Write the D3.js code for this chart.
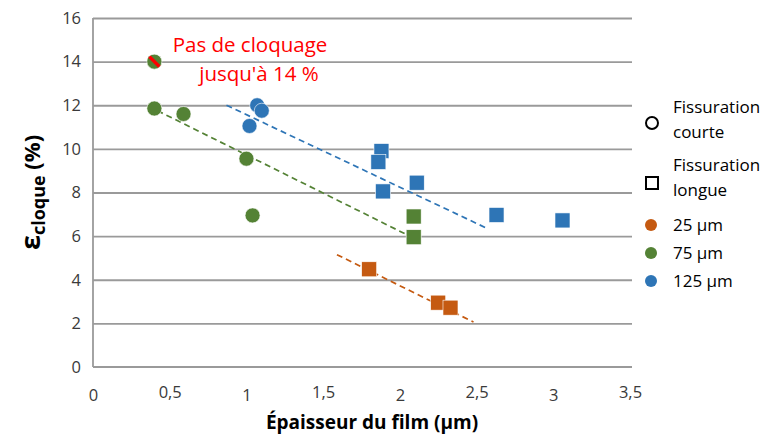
<!DOCTYPE html>
<html>
<head>
<meta charset="utf-8">
<script src="https://cdn.jsdelivr.net/npm/d3@7"></script>
<style>
  html, body { margin: 0; padding: 0; background: #fff; }
  svg { display: block; font-family: "Open Sans", "Liberation Sans", sans-serif; }
</style>
</head>
<body>
<svg id="chart" width="767" height="435"></svg>
<script>
// Film thickness (µm) vs. blistering strain (%), by substrate thickness
const groups = ["25 µm", "75 µm", "125 µm"];
const groupColors = ["#C55A11", "#548235", "#2E75B6"];

// short cracking -> circles, long cracking -> squares
const shortX = [[], [0.40, 0.59, 1.00, 1.04], [1.07, 1.10, 1.02]];
const shortY = [[], [11.85, 11.6, 9.55, 6.95], [12.0, 11.75, 11.05]];
const longX = [[1.80, 2.25, 2.33], [2.09, 2.09], [1.88, 1.86, 1.89, 2.11, 2.63, 3.06]];
const longY = [[4.48, 2.95, 2.72], [6.9, 5.95], [9.9, 9.4, 8.05, 8.45, 6.97, 6.72]];

// dashed trend lines [x0, y0, x1, y1]
const trends = [[1.59, 5.15, 2.48, 2.06], [0.42, 11.75, 2.07, 5.98], [0.87, 12.0, 2.57, 6.35]];

// point with no blistering up to 14 %
const noBlisterX = 0.40, noBlisterY = 14;

const xTicks = [0, 0.5, 1, 1.5, 2, 2.5, 3, 3.5];
const yTicks = [0, 2, 4, 6, 8, 10, 12, 14, 16];

const svg = d3.select("#chart");
const margin = { left: 93, right: 137, top: 18, bottom: 68 };
const W = 767, H = 435;

const x = d3.scaleLinear().domain([0, 3.5]).range([margin.left, W - margin.right]);
const y = d3.scaleLinear().domain([0, 16]).range([H - margin.bottom, margin.top]);

const gridColor = "#9a9a9a";
const textColor = "#3a3a3a";

// horizontal gridlines
svg.append("g")
  .attr("transform", `translate(${margin.left},0)`)
  .call(d3.axisLeft(y).tickValues(yTicks.filter(v => v > 0))
    .tickSize(-(x(3.5) - x(0) + 2)).tickFormat(""))
  .call(g => g.select(".domain").remove())
  .call(g => g.selectAll("line").attr("stroke", gridColor).attr("stroke-width", 1.8));

// left and bottom axis lines
svg.append("line").attr("x1", x(0)).attr("x2", x(0)).attr("y1", y(16)).attr("y2", y(0))
  .attr("stroke", gridColor).attr("stroke-width", 1.8);
svg.append("line").attr("x1", x(0)).attr("x2", x(3.5) + 2).attr("y1", y(0)).attr("y2", y(0))
  .attr("stroke", gridColor).attr("stroke-width", 1.8);

// y tick labels
svg.append("g")
  .attr("transform", `translate(${margin.left},0)`)
  .call(d3.axisLeft(y).tickValues(yTicks).tickSize(0).tickPadding(12).tickFormat(d3.format("d")))
  .call(g => g.select(".domain").remove())
  .call(g => g.selectAll("text").attr("fill", textColor).style("font-size", "16.5px")
    .style("font-family", "'Open Sans', sans-serif"));

// x tick labels (comma decimals; half-steps sit a little higher)
svg.append("g")
  .attr("transform", `translate(0,${y(0)})`)
  .call(d3.axisBottom(x).tickValues(xTicks).tickSize(0).tickPadding(22)
    .tickFormat(d => String(d).replace(".", ",")))
  .call(g => g.select(".domain").remove())
  .call(g => g.selectAll("text").attr("fill", textColor).style("font-size", "16.5px")
    .style("font-family", "'Open Sans', sans-serif")
    .attr("dy", d => (d % 1 === 0 ? "0.71em" : "0.52em")));

// trend lines
trends.forEach((t, i) => {
  svg.append("line")
    .attr("x1", x(t[0])).attr("y1", y(t[1]))
    .attr("x2", x(t[2])).attr("y2", y(t[3]))
    .attr("stroke", groupColors[i]).attr("stroke-width", 1.7)
    .attr("stroke-dasharray", "6,4");
});

const R = 7.5, S = 15;

// circles: short cracking
groups.forEach((g, i) => {
  svg.append("g").selectAll("circle")
    .data(shortX[i].map((v, k) => [v, shortY[i][k]]))
    .join("circle")
    .attr("cx", d => x(d[0])).attr("cy", d => y(d[1])).attr("r", R)
    .attr("fill", groupColors[i]).attr("stroke", "#fff").attr("stroke-width", 0.6);
});

// squares: long cracking
groups.forEach((g, i) => {
  svg.append("g").selectAll("rect")
    .data(longX[i].map((v, k) => [v, longY[i][k]]))
    .join("rect")
    .attr("x", d => x(d[0]) - S / 2).attr("y", d => y(d[1]) - S / 2)
    .attr("width", S).attr("height", S)
    .attr("fill", groupColors[i]).attr("stroke", "#fff").attr("stroke-width", 0.6);
});

// no-blistering point with red strike
svg.append("circle").attr("cx", x(noBlisterX)).attr("cy", y(noBlisterY)).attr("r", R)
  .attr("fill", groupColors[1]).attr("stroke", "#fff").attr("stroke-width", 0.6);
svg.append("line")
  .attr("x1", x(noBlisterX) - 5).attr("y1", y(noBlisterY) - 5)
  .attr("x2", x(noBlisterX) + 5).attr("y2", y(noBlisterY) + 5)
  .attr("stroke", "#ff0000").attr("stroke-width", 3.5);

// annotation
const note = svg.append("text").attr("fill", "#ff0000").style("font-size", "20.5px")
  .attr("text-anchor", "middle");
note.append("tspan").attr("x", 250).attr("y", 52).text("Pas de cloquage");
note.append("tspan").attr("x", 259).attr("y", 81).text("jusqu'à 14 %");

// axis titles
svg.append("text")
  .attr("x", 372).attr("y", 429)
  .attr("text-anchor", "middle").attr("fill", "#000")
  .style("font-size", "19px").style("font-weight", "bold")
  .text("Épaisseur du film (µm)");

const yt = svg.append("text")
  .attr("transform", `translate(40,${(y(0) + y(16)) / 2}) rotate(-90)`)
  .attr("text-anchor", "middle").attr("fill", "#000").style("font-weight", "bold");
yt.append("tspan").style("font-size", "27px").text("ε");
yt.append("tspan").style("font-size", "18px").attr("dy", 5).text("cloque");
yt.append("tspan").style("font-size", "22px").attr("dy", -5).text(" (%)");

// legend
const lg = svg.append("g").style("font-size", "17px").attr("fill", "#000");
const lx = 652, tx = 673;
lg.append("circle").attr("cx", lx).attr("cy", 123).attr("r", 6)
  .attr("fill", "none").attr("stroke", "#000").attr("stroke-width", 2);
lg.append("text").attr("x", tx).attr("y", 113).text("Fissuration");
lg.append("text").attr("x", tx).attr("y", 138).text("courte");
lg.append("rect").attr("x", lx - 6).attr("y", 177).attr("width", 12).attr("height", 12)
  .attr("fill", "none").attr("stroke", "#000").attr("stroke-width", 2);
lg.append("text").attr("x", tx).attr("y", 171).text("Fissuration");
lg.append("text").attr("x", tx).attr("y", 196).text("longue");
const ly = [225, 253, 281];
groups.forEach((g, i) => {
  lg.append("circle").attr("cx", lx - 1).attr("cy", ly[i]).attr("r", 6).attr("fill", groupColors[i]);
  lg.append("text").attr("x", tx).attr("y", ly[i] + 6).text(g);
});
</script>
</body>
</html>
